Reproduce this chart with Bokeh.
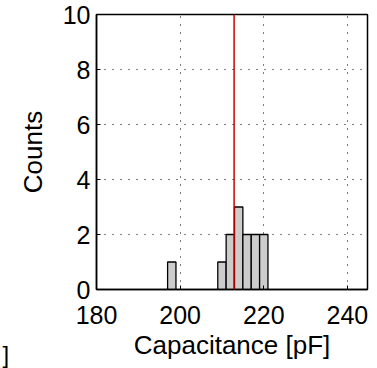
from bokeh.plotting import figure
from bokeh.models import Span, Title, FixedTicker, Range1d
from bokeh.embed import file_html
from bokeh.resources import INLINE

# Data
bin_centers = [198, 210, 212, 214, 216, 218, 220]
counts = [1, 1, 2, 3, 2, 2, 2]
bin_width = 2
reference_value = 212.9
x_ticks = [180, 200, 220, 240]
y_ticks = [0, 2, 4, 6, 8, 10]

FONT = "Liberation Sans"

p = figure(width=377, height=368, output_backend="svg", toolbar_location=None,
           x_range=Range1d(180, 244.8), y_range=Range1d(0, 10),
           min_border_left=96, min_border_right=10, min_border_top=14, min_border_bottom=79)

lefts = [c - bin_width / 2 for c in bin_centers]
rights = [c + bin_width / 2 for c in bin_centers]
p.quad(left=lefts, right=rights, bottom=0, top=counts,
       fill_color="#cccccc", line_color="black", line_width=1.3)

p.add_layout(Span(location=reference_value, dimension="height",
                  line_color="#cc0000", line_width=1.5))

for ax in (p.xaxis[0], p.yaxis[0]):
    ax.major_label_text_font = FONT
    ax.major_label_text_font_size = "25px"
    ax.major_label_text_color = "black"
    ax.axis_label_text_font = FONT
    ax.axis_label_text_font_size = "26px"
    ax.axis_label_text_font_style = "normal"
    ax.axis_label_text_color = "black"
    ax.major_tick_in = 4
    ax.major_tick_out = 0
    ax.minor_tick_in = 0
    ax.minor_tick_out = 0
    ax.axis_line_color = "black"
    ax.axis_line_width = 1.5

p.xaxis.ticker = FixedTicker(ticks=x_ticks)
p.yaxis.ticker = FixedTicker(ticks=y_ticks)
p.xaxis.axis_label = "Capacitance [pF]"
p.yaxis.axis_label = "Counts"
p.xaxis.major_label_standoff = 16
p.yaxis.major_label_standoff = 6
p.xaxis.axis_label_standoff = 3
p.yaxis.axis_label_standoff = 12

p.xgrid.grid_line_color = "black"
p.ygrid.grid_line_color = "black"
p.xgrid.grid_line_dash = "1 7"
p.ygrid.grid_line_dash = "1 7"
p.xgrid.grid_line_width = 1
p.ygrid.grid_line_width = 1

p.outline_line_color = "black"
p.outline_line_width = 1.5
p.background_fill_color = "white"
p.border_fill_color = "white"

# stray bracket at the lower left corner (fragment of a neighbouring label)
p.add_layout(Title(text="]", align="left", offset=-94, vertical_align="top",
                   standoff=-43, text_font=FONT, text_font_size="24px",
                   text_font_style="normal", text_color="black"), "below")

open("out.html", "w").write(file_html(p, INLINE))
